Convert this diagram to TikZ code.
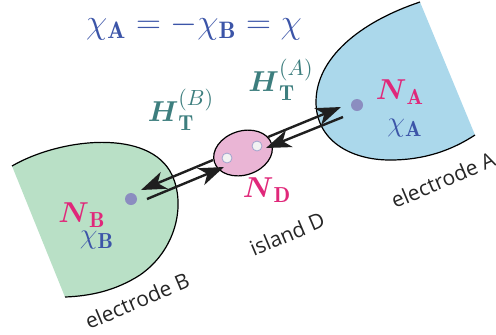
\documentclass[tikz,border=0pt]{standalone}
\usepackage{amsmath,amssymb}
\usepackage{fontspec}
\newfontfamily\labelfont{Open Sans}
\usetikzlibrary{arrows.meta,positioning,shapes.geometric}
\definecolor{elecA}{HTML}{ABD8EB}
\definecolor{elecB}{HTML}{B9E0C6}
\definecolor{island}{HTML}{EAB5D5}
\definecolor{dotc}{HTML}{8B8DC0}
\definecolor{magent}{HTML}{E0287A}
\definecolor{chiblue}{HTML}{3C55A8}
\definecolor{tealH}{HTML}{3D7E7E}

\begin{document}
\begin{tikzpicture}[
  x=0.5pt,y=-0.5pt,
  edge/.style={line width=0.6pt,draw=black},
  dot/.style={circle,fill=dotc,inner sep=0pt,minimum size=6pt},
  hole/.style={circle,draw=dotc!80,fill=gray!10,line width=0.4pt,
               inner sep=0pt,minimum size=5pt},
  tun/.style={-{Stealth[length=12.5pt,width=9pt,inset=3.5pt]},
              line width=1.2pt,color=black!88},
  lbl/.style={font=\labelfont\fontsize{10.5}{12}\selectfont,rotate=23,
              text=black!85},
  num/.style={text=magent,font=\fontsize{15.5}{17}\selectfont},
  chi/.style={text=chiblue,font=\fontsize{15.5}{17}\selectfont},
  ham/.style={text=tealH,font=\fontsize{15.5}{17}\selectfont}
]
  \useasboundingbox (0,0) rectangle (496,334);

  \fill[elecA] (420,2) .. controls (360,22) and (316,58) .. (316,102)
    .. controls (316,140) and (350,160) .. (390,160)
    .. controls (425,160) and (452,150) .. (475,135) -- cycle;
  \draw[edge] (420,2) .. controls (360,22) and (316,58) .. (316,102)
    .. controls (316,140) and (350,160) .. (390,160)
    .. controls (425,160) and (452,150) .. (475,135);

  \fill[elecB] (12,166) .. controls (60,138) and (150,128) .. (172,175)
    .. controls (186,205) and (176,250) .. (140,275)
    .. controls (115,291) and (90,296) .. (65,297) -- cycle;
  \draw[edge] (12,166) .. controls (60,138) and (150,128) .. (172,175)
    .. controls (186,205) and (176,250) .. (140,275)
    .. controls (115,291) and (90,296) .. (65,297);

  \node[ellipse,draw,line width=0.6pt,fill=island,minimum width=30pt,
        minimum height=22pt,inner sep=0pt,rotate=18] (isl) at (243,153) {};
  \node[hole] (hD1) at (227,158) {};
  \node[hole] (hD2) at (257,146) {};

  \node[dot] (dA) at (357,105) {};
  \node[dot] (dB) at (131,199) {};

  \coordinate (a1) at (268,137);
  \coordinate (a2) at (341,107);
  \coordinate (a3) at (343,117);
  \coordinate (a4) at (266,148);
  \coordinate (b1) at (213,160);
  \coordinate (b2) at (141,190);
  \coordinate (b3) at (147,199);
  \coordinate (b4) at (224,167);
  \draw[tun] (a1) -- (a2);
  \draw[tun] (a3) -- (a4);
  \draw[tun] (b1) -- (b2);
  \draw[tun] (b3) -- (b4);

  \node[chi,font=\fontsize{17}{19}\selectfont] (eq) at (194,27)
    {$\chi_{\mathbf{A}}=-\chi_{\mathbf{B}}=\chi$};

  \node[num] (NA) at (400,92) {$\boldsymbol{N}_{\mathbf{A}}$};
  \node[chi] (cA) at (405,128) {$\chi_{\mathbf{A}}$};
  \node[num] (NB) at (82,215) {$\boldsymbol{N}_{\mathbf{B}}$};
  \node[chi] (cB) at (97,240) {$\chi_{\mathbf{B}}$};
  \node[num] (ND) at (267,190) {$\boldsymbol{N}_{\mathbf{D}}$};

  \node[ham] (HA) at (281,80) {$\boldsymbol{H}_{\mathbf{T}}^{(A)}$};
  \node[ham] (HB) at (181,110) {$\boldsymbol{H}_{\mathbf{T}}^{(B)}$};

  \node[lbl] (eA) at (443,180) {electrode A};
  \node[lbl] (iD) at (287,234) {island D};
  \node[lbl] (eB) at (137,301) {electrode B};
\end{tikzpicture}
\end{document}
